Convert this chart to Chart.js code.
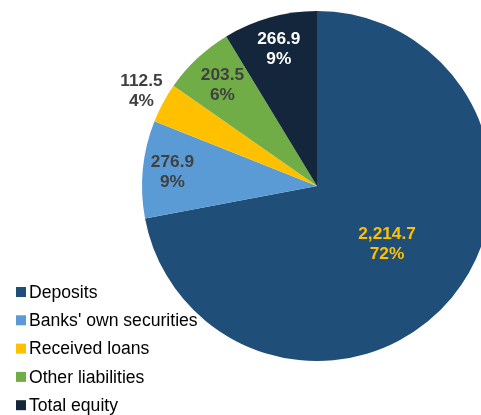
<!DOCTYPE html>
<html>
<head>
<meta charset="utf-8">
<script src="https://cdn.jsdelivr.net/npm/chart.js@4/dist/chart.umd.min.js"></script>
<style>
  html, body { margin: 0; padding: 0; background: #fff; overflow: hidden; }
  #wrap { width: 481px; height: 415px; overflow: hidden; position: relative; }
</style>
</head>
<body>
<div id="wrap"><canvas id="liabilities" width="500" height="415"></canvas></div>
<script>
// liabilities structure (amounts and printed shares)
var categories = ["Deposits", "Banks' own securities", "Received loans", "Other liabilities", "Total equity"];
var amounts = [2214.7, 276.9, 112.5, 203.5, 266.9];
var shares = [72, 9, 4, 6, 9];

var sliceColors = ["#1f4e79", "#5b9bd5", "#ffc000", "#70ad47", "#13263b"];
var labelColors = ["#ffc000", "#404040", "#404040", "#404040", "#ffffff"];
var labelDist = [0.52, 0.83, 1.14, 0.79, 0.81];

// value + percent labels on each slice
var sliceLabels = {
  id: "sliceLabels",
  afterDatasetsDraw: function(chart) {
    var ctx = chart.ctx;
    var meta = chart.getDatasetMeta(0);
    ctx.save();
    ctx.font = "bold 17.3px 'Liberation Sans', Arial, sans-serif";
    ctx.textAlign = "center";
    ctx.textBaseline = "middle";
    meta.data.forEach(function(arc, i) {
      var p = arc.getProps(["x", "y", "startAngle", "endAngle", "outerRadius"], true);
      var mid = (p.startAngle + p.endAngle) / 2;
      var r = p.outerRadius * labelDist[i];
      var x = p.x + Math.cos(mid) * r;
      var y = p.y + Math.sin(mid) * r;
      var val = amounts[i].toLocaleString("en-US", {minimumFractionDigits: 1, maximumFractionDigits: 1});
      ctx.fillStyle = labelColors[i];
      ctx.fillText(val, x, y - 10);
      ctx.fillText(shares[i] + "%", x, y + 10);
    });
    ctx.restore();
  }
};

// legend list in the lower left corner
var sideLegend = {
  id: "sideLegend",
  afterDraw: function(chart) {
    var ctx = chart.ctx;
    ctx.save();
    ctx.font = "17.6px 'Liberation Sans', Arial, sans-serif";
    ctx.textBaseline = "middle";
    chart.data.labels.forEach(function(name, i) {
      var y = 292 + i * 28.3;
      ctx.fillStyle = sliceColors[i];
      ctx.fillRect(16, y - 5, 10, 10);
      ctx.fillStyle = "#000";
      ctx.fillText(name, 29, y + 1);
    });
    ctx.restore();
  }
};

new Chart("liabilities", {
  type: "pie",
  data: {
    labels: categories,
    datasets: [{
      data: amounts,
      backgroundColor: sliceColors,
      borderWidth: 0
    }]
  },
  options: {
    responsive: false,
    animation: false,
    devicePixelRatio: 1,
    layout: { padding: { left: 142, right: 8, top: 11, bottom: 54 } },
    plugins: {
      legend: { display: false },
      tooltip: { enabled: false }
    }
  },
  plugins: [sliceLabels, sideLegend]
});
</script>
</body>
</html>
